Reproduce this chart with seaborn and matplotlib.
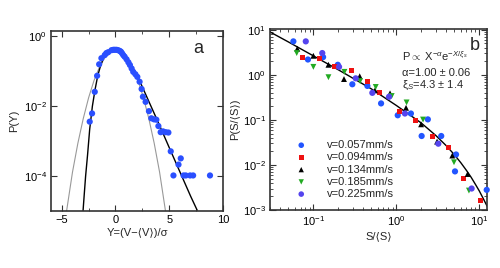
import matplotlib
matplotlib.use("Agg")
import matplotlib.pyplot as plt
import matplotlib.ticker as mticker
import seaborn as sns
import pandas as pd

sns.set_style("ticks")
plt.rcParams["font.family"] = ["Liberation Sans", "DejaVu Sans"]
plt.rcParams["mathtext.fontset"] = "custom"
plt.rcParams["mathtext.rm"] = "Liberation Sans"
plt.rcParams["mathtext.it"] = "Liberation Sans:italic"

# ---------------- panel a : velocity fluctuations ----------------
a_x = [-2.4, -2.18, -1.93, -1.71, -1.52, -1.31, -1.0, -0.85, -0.68, -0.37, -0.2, -0.06,
       0.1, 0.25, 0.4, 0.5, 0.6, 0.72, 0.85, 1.03, 1.2, 1.34, 1.5, 1.65, 1.85,
       2.03, 2.24, 2.43, 2.55, 2.8, 3.11, 3.33, 3.58, 3.8, 3.99, 4.2, 4.42, 4.67, 4.92,
       5.14, 5.86, 6.07, 5.39, 6.33, 6.54, 6.94, 7.22, 8.79]
a_y = [0.0036, 0.0062, 0.0257, 0.074, 0.158, 0.236, 0.29, 0.33, 0.35, 0.40, 0.41, 0.41,
       0.41, 0.40, 0.38, 0.363, 0.33, 0.29, 0.26, 0.219, 0.18, 0.151, 0.12, 0.096, 0.082,
       0.069, 0.050, 0.031, 0.0186, 0.0133, 0.0072, 0.0045, 0.0042, 0.0041, 0.0027, 0.0018,
       0.0019, 0.0018, 0.00176, 0.00051, 0.000213, 0.00032, 1.04e-4, 1.04e-4, 1.04e-4,
       1.04e-4, 1.04e-4, 1.04e-4]

# black fit curve
fit_a_x = [-3.02, -2.9, -2.78, -2.6, -2.4, -2.15, -1.9, -1.65, -1.4, -1.1, -0.8, -0.5,
           -0.25, 0.0, 0.4, 0.8, 1.2, 1.6, 2.0, 3.0, 4.0, 5.0, 6.0, 7.0, 7.6]
fit_a_y = [1e-5, 3.2e-5, 1e-4, 4e-4, 2.2e-3, 1e-2, 0.03, 0.075, 0.14, 0.25, 0.34, 0.39,
           0.41, 0.40, 0.35, 0.27, 0.19, 0.125, 0.078, 0.016, 0.0033, 6.5e-4, 1.3e-4,
           2.6e-5, 1.05e-5]

# grey gaussian curve
gauss_x = [-4.55, -4.0, -3.5, -3.0, -2.5, -2.0, -1.5, -1.0, -0.5, 0.05, 0.6, 1.1, 1.6,
           2.1, 2.6, 3.1, 3.6, 4.1, 4.65]
gauss_y = [1e-5, 1.3e-4, 8.7e-4, 4.4e-3, 0.0175, 0.054, 0.13, 0.242, 0.352, 0.399, 0.352,
           0.242, 0.13, 0.054, 0.0175, 0.0044, 8.7e-4, 1.3e-4, 1e-5]

# ---------------- panel b : avalanche sizes ----------------
labels_b = ["v=0.057mm/s", "v=0.094mm/s", "v=0.134mm/s", "v=0.185mm/s", "v=0.225mm/s"]
x_057 = [0.0574, 0.086, 0.131, 0.197, 0.295, 0.448, 0.655, 1.04, 1.50, 2.02, 2.4, 3.48,
         5.25, 5.1, 12.3]
y_057 = [5.56, 2.20, 2.49, 1.68, 0.62, 0.57, 0.233, 0.127, 0.139, 0.044, 0.103, 0.044,
         0.0171, 0.0072, 0.0028]
x_094 = [0.0745, 0.117, 0.179, 0.285, 0.448, 0.62, 1.09, 1.71, 2.72, 4.23, 6.54, 10.3]
y_094 = [2.40, 2.28, 1.57, 1.25, 0.70, 0.41, 0.157, 0.095, 0.044, 0.0241, 0.0049, 0.0016]
x_134 = [0.064, 0.1, 0.152, 0.234, 0.362, 0.553, 0.84, 1.31, 1.99, 3.1, 4.73, 7.24]
y_134 = [3.82, 2.66, 1.68, 0.81, 0.935, 0.455, 0.39, 0.186, 0.080, 0.033, 0.0162, 0.0063]
x_185 = [0.063, 0.1, 0.152, 0.237, 0.366, 0.565, 0.88, 1.33, 2.1, 4.96, 7.51]
y_185 = [3.06, 1.51, 0.89, 1.17, 0.73, 0.54, 0.34, 0.245, 0.102, 0.0115, 0.0027]
x_225 = [0.081, 0.128, 0.204, 0.324, 0.514, 0.817, 1.27, 3.21, 8.09]
y_225 = [5.56, 3.06, 1.51, 0.84, 0.40, 0.327, 0.139, 0.0297, 0.003]

# power law with exponential cutoff
fit_b_x = [0.03, 0.05, 0.1, 0.2, 0.5, 1, 2, 3, 4, 5, 6, 7, 8, 9, 10, 11, 12.4]
fit_b_y = [9.0, 5.4, 2.65, 1.30, 0.49, 0.21, 0.0855, 0.045, 0.0268, 0.017, 0.0112,
           0.0076, 0.0053, 0.0037, 0.00266, 0.0019, 0.00123]

series_b = [(x_057, y_057), (x_094, y_094), (x_134, y_134), (x_185, y_185), (x_225, y_225)]
colors_b = ["#2255ff", "#ee1111", "#000000", "#22aa22", "#5544ee"]
markers_b = ["o", "s", "^", "v", "o"]
sizes_b = [20, 13, 18, 18, 20]

fig = plt.figure(figsize=(5, 2.68), dpi=100)
ax1 = fig.add_axes([0.102, 0.2127, 0.344, 0.671])
ax2 = fig.add_axes([0.54, 0.2164, 0.434, 0.6756])

spine_col = "#333333"

# panel a
sns.lineplot(x=gauss_x, y=gauss_y, ax=ax1, color="#999999", lw=0.8, sort=False, estimator=None)
sns.lineplot(x=fit_a_x, y=fit_a_y, ax=ax1, color="black", lw=1.0, sort=False, estimator=None)
sns.scatterplot(x=a_x, y=a_y, ax=ax1, color="#2a4fff", s=20, edgecolor="none", zorder=3)
ax1.set_yscale("log")
ax1.set_xlim(-6, 10)
ax1.set_ylim(1e-5, 1.4)
ax1.set_xticks([-5, 0, 5, 10])
ax1.xaxis.set_minor_locator(mticker.MultipleLocator(2.5))
ax1.set_yticks([1e-4, 1e-2, 1])
ax1.yaxis.set_minor_locator(mticker.NullLocator())
ax1.set_xlabel("Y=(V−⟨V⟩)/σ", fontsize=8, labelpad=2)
ax1.set_ylabel("P(Y)", fontsize=8, labelpad=3)
ax1.text(0.855, 0.905, "a", transform=ax1.transAxes, fontsize=13, ha="center", va="center")

# panel b
sns.lineplot(x=fit_b_x, y=fit_b_y, ax=ax2, color="black", lw=1.0, sort=False, estimator=None)
for (xs, ys), lab, col, mk, sz in zip(series_b, labels_b, colors_b, markers_b, sizes_b):
    df = pd.DataFrame({"x": xs, "y": ys})
    sns.scatterplot(data=df, x="x", y="y", ax=ax2, color=col, marker=mk, s=sz,
                    edgecolor="none", label=lab, zorder=3, clip_on=False)
ax2.set_xscale("log")
ax2.set_yscale("log")
ax2.set_xlim(0.03, 12.4)
ax2.set_ylim(1e-3, 10.5)
ax2.set_xlabel("S/⟨S⟩", fontsize=8, labelpad=2)
ax2.set_ylabel("P(S/⟨S⟩)", fontsize=8, labelpad=2)
ax2.text(0.945, 0.908, "b", transform=ax2.transAxes, fontsize=13, ha="center", va="center")
ax2.text(0.608, 0.822, r"P$\propto$ X$^{-\alpha}$e$^{-X/\xi_s}$", transform=ax2.transAxes,
         fontsize=8, va="baseline")
ax2.text(0.608, 0.742, "α=1.00 ± 0.06", transform=ax2.transAxes, fontsize=8, va="baseline")
ax2.text(0.608, 0.672, "ξ$_S$=4.3 ± 1.4", transform=ax2.transAxes, fontsize=8, va="baseline")
ax2.legend(loc="lower left", bbox_to_anchor=(0.08, 0.03), frameon=False, fontsize=8,
           handletextpad=1.6, labelspacing=0.2, borderpad=0, handlelength=1.5,
           markerscale=0.9)

for ax in (ax1, ax2):
    ax.tick_params(which="both", direction="in", top=True, right=True, colors=spine_col,
                   labelcolor="black", labelsize=8, pad=3)
    ax.tick_params(which="major", length=4, width=0.8)
    ax.tick_params(which="minor", length=2, width=0.6)
    for sp in ax.spines.values():
        sp.set_color(spine_col)
        sp.set_linewidth(1.2)

fig.savefig("out.png", dpi=100)
